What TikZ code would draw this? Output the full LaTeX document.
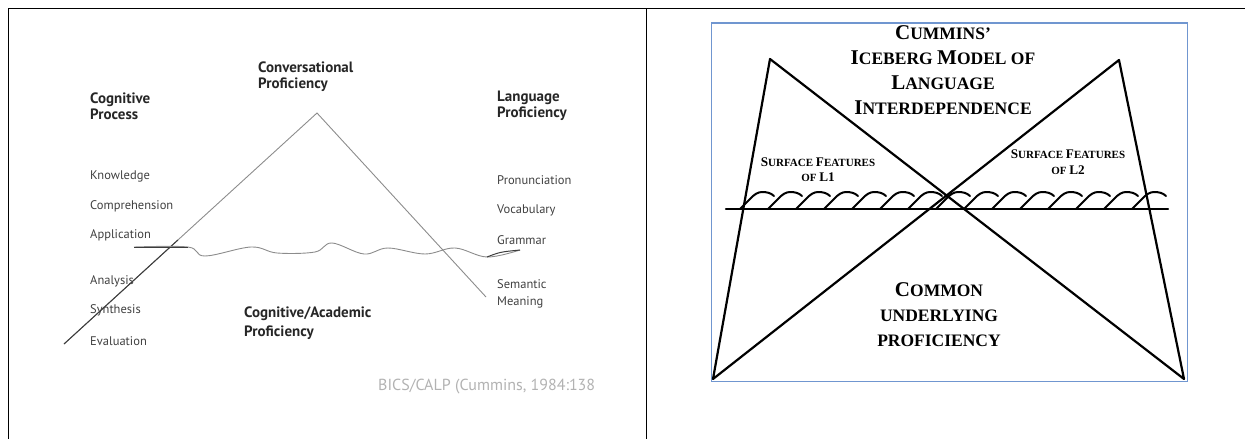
\documentclass[tikz,border=0pt]{standalone}
\usepackage{fontspec}
\newfontfamily\scanfont{PT Sans}
\newfontfamily\bergfont{Liberation Serif}
\newcommand\ini[1]{\scalebox{1.2}{#1}}
\definecolor{scangray}{RGB}{140,140,140}
\definecolor{scandark}{RGB}{60,60,60}
\definecolor{boxblue}{RGB}{112,150,208}
\begin{document}
\begin{tikzpicture}[x=1pt,y=-1pt,
  rule/.style={line width=1.3pt},
  scanline/.style={draw=scangray,line width=0.9pt},
  scandeep/.style={draw=scandark,line width=1pt},
  heading/.style={font=\scanfont\bfseries\fontsize{15}{16}\selectfont,text=black!85,align=left,anchor=west,inner sep=0pt},
  item/.style={font=\scanfont\fontsize{12.5}{17}\selectfont,text=black!75,align=left,anchor=west,inner sep=0pt},
  berg/.style={font=\bergfont\bfseries\fontsize{17.5}{25}\selectfont,align=center,inner sep=0pt},
  surf/.style={font=\bergfont\bfseries\fontsize{11}{15.5}\selectfont,align=center,inner sep=0pt},
  iceline/.style={line width=2.2pt,line join=round,line cap=round},
  wave/.style={line width=2pt,line cap=round,line join=round}]
\useasboundingbox (0,0) rectangle (1245,439);
% table rules
\coordinate (tl) at (8.5,8.5);
\coordinate (tr) at (1245,8.5);
\coordinate (lb) at (8.5,439);
\coordinate (mt) at (646.5,8.5);
\coordinate (mb) at (646.5,439);
\draw[rule] (tr) -- (tl) -- (lb);
\draw[rule] (mt) -- (mb);
% left panel: BICS/CALP iceberg
\coordinate (peak) at (317,113);
\coordinate (lfoot) at (64,344);
\coordinate (rfoot) at (486,297);
\draw[scanline] (lfoot) -- (peak) -- (rfoot);
\path (lfoot) -- (peak) coordinate[pos=0.45] (lwet);
\draw[scandeep] (lfoot) -- (lwet);
\draw[scanline] plot[smooth,tension=0.6] coordinates {(134,247) (188,247) (205,256) (251,247) (277,253) (315,252) (332,243) (364,254) (388,248) (425,254) (455,248) (487,257) (520,250)};
\draw[scandeep] (134,247) -- (188,247);
\draw[scandeep] (487,257) .. controls (500,252) .. (520,250);
\node[heading] (conv) at (258,76.5) {Conversational\\Proficiency};
\node[heading] (cogproc) at (90,106) {Cognitive\\Process};
\node[heading] (langprof) at (497,106) {Language\\Proficiency};
\node[heading,font=\scanfont\bfseries\fontsize{15}{19}\selectfont] (calp) at (244,323.5) {Cognitive/Academic\\Proficiency};
\node[item] (know) at (90,176) {Knowledge};
\node[item] (comp) at (90,206) {Comprehension};
\node[item] (appl) at (90,235) {Application};
\node[item] (anal) at (90,281) {Analysis};
\node[item] (synt) at (90,310) {Synthesis};
\node[item] (eval) at (90,341) {Evaluation};
\node[item] (pron) at (497,180) {Pronunciation};
\node[item] (voc) at (497,210) {Vocabulary};
\node[item] (gram) at (497,240) {Grammar};
\node[item] (sem) at (497,293.5) {Semantic\\Meaning};
\node[item,font=\scanfont\fontsize{16}{18}\selectfont,text=black!30] (src) at (378,387) {BICS/CALP (Cummins, 1984:138};
% right panel: CUP model
\draw[boxblue,line width=1.6pt] (711.5,23) rectangle (1187.5,381.5);
\coordinate (bl) at (713,379);
\coordinate (br) at (1184,379);
\coordinate (apexL) at (770,59);
\coordinate (apexR) at (1119,60);
\draw[iceline] (bl) -- (apexL) -- (br) -- (apexR) -- (bl) -- cycle;
\coordinate (wl) at (726,209);
\coordinate (wr) at (1168,209);
\draw[iceline] (wl) -- (wr);
\foreach \i [evaluate=\i as \wx using 740+28*\i] in {0,...,14}
  \draw[wave] ({\wx},209) -- ({\wx+10},199) .. controls ({\wx+14},194.5) and ({\wx+18},192) .. ({\wx+22},192) .. controls ({\wx+27},192) and ({\wx+31},193) .. ({\wx+34},196);
\node[berg] (title) at (943,70.5) {\ini{C}UMMINS’\\\ini{I}CEBERG \ini{M}ODEL OF\\\ini{L}ANGUAGE\\\ini{I}NTERDEPENDENCE};
\node[surf] (sf1) at (818,169.5) {\ini{S}URFACE \ini{F}EATURES\\OF \ini{L1}};
\node[surf] (sf2) at (1068,162) {\ini{S}URFACE \ini{F}EATURES\\OF \ini{L2}};
\node[berg] (cup) at (939,315) {\ini{C}OMMON\\UNDERLYING\\PROFICIENCY};
\end{tikzpicture}
\end{document}
